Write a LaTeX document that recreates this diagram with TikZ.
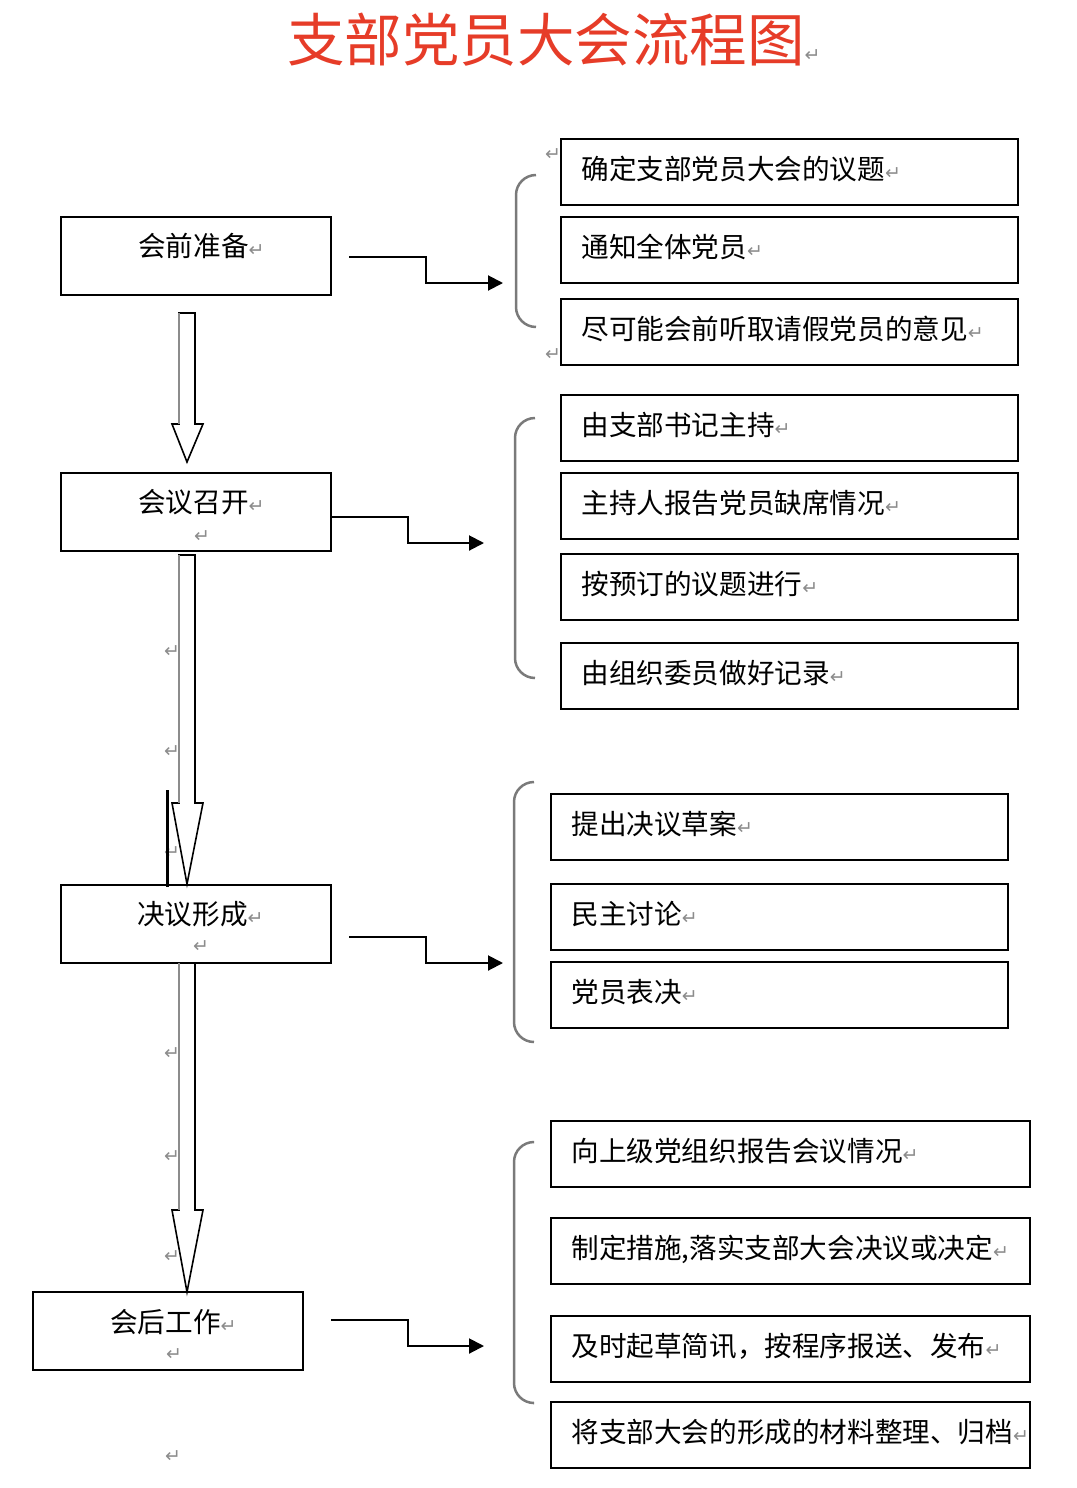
\documentclass[tikz,border=0pt]{standalone}
\usepackage{fontspec}
\usepackage{tikz}
\usepackage{xcolor}
\usetikzlibrary{arrows.meta,positioning,calc}
\setmainfont{Noto Sans CJK SC}
\newfontfamily\retfont{DejaVu Sans}
\definecolor{TitleRed}{HTML}{E63C28}
\definecolor{BraceGray}{HTML}{7A7A7A}
\definecolor{MarkGray}{HTML}{8C8C8C}
\newcommand{\parmark}{{\retfont\fontsize{19}{19}\selectfont\color{MarkGray}↵}}
\tikzset{
    every node/.style={font=\fontsize{27.6}{32}\selectfont},
    stagebox/.style={
        draw, line width=2pt,
        minimum width=270pt, minimum height=78pt, inner sep=0pt
    },
    stagetext/.style={anchor=west, inner sep=0pt},
    itembox/.style={
        draw, line width=2pt, minimum height=66pt,
        inner xsep=20.5pt, inner ysep=0pt,
        text depth=9pt, text height=23pt,
        text width=#1, align=left
    },
    flowarrow/.style={
        -{Triangle[length=15pt,width=15pt]}, line width=2pt
    },
    hollowarrow/.style={
        draw=black, line width=1.6pt, fill=white, line join=miter
    },
    shaftedge/.style={MarkGray, line width=2.4pt},
    brace/.style={BraceGray, line width=2.5pt, rounded corners=20pt},
    parmk/.style={inner sep=0pt},
}

\begin{document}
\begin{tikzpicture}[x=1pt, y=-1pt]
    \useasboundingbox (0,0) rectangle (1076,1488);

    % Title
    \node[anchor=west, inner sep=0pt, text=TitleRed, font=\fontsize{57.5}{60}\selectfont] (title) at (287,40) {支部党员大会流程图\parmark};

    % Stages on the left
    \node[stagebox] (prep) at (196,256) {};
    \node[stagetext] (prepT) at (138,246) {会前准备\parmark};

    \node[stagebox] (meet) at (196,512) {};
    \node[stagetext] (meetT) at (138,502) {会议召开\parmark};
    \node[parmk] (meetM) at (202,537) {\parmark};

    \node[stagebox] (resol) at (196,924) {};
    \node[stagetext] (resolT) at (137,914) {决议形成\parmark};
    \node[parmk] (resolM) at (201,947) {\parmark};

    \node[stagebox] (after) at (168,1331) {};
    \node[stagetext] (afterT) at (110,1322) {会后工作\parmark};
    \node[parmk] (afterM) at (174,1355) {\parmark};
    \node[parmk] (endM) at (173,1457) {\parmark};

    % Hollow arrows between stages
    \path[hollowarrow] (179,313) -- (195,313) -- (195,424) -- (203,424) -- (187,462) -- (172,424) -- (179,424) -- cycle;
    \draw[shaftedge] (179,313) -- (179,424);

    \path[hollowarrow] (179,555) -- (195,555) -- (195,803) -- (203,803) -- (187,884) -- (172,803) -- (179,803) -- cycle;
    \draw[shaftedge] (179,555) -- (179,803);

    \path[hollowarrow] (179,963) -- (195,963) -- (195,1210) -- (203,1210) -- (187,1292) -- (172,1210) -- (179,1210) -- cycle;
    \draw[shaftedge] (179,963) -- (179,1210);

    % Marks along the shafts
    \node[parmk] (pmA) at (172,652) {\parmark};
    \node[parmk] (pmB) at (172,752) {\parmark};
    \node[parmk] (pmC) at (172,853) {\parmark};
    \node[parmk] (pmD) at (172,1054) {\parmark};
    \node[parmk] (pmE) at (172,1157) {\parmark};
    \node[parmk] (pmF) at (172,1257) {\parmark};
    \draw[line width=3pt] (167,790) -- (167,887);

    % Arrow ends at the braces
    \coordinate (tipA) at (503,283);
    \coordinate (tipB) at (484,543);
    \coordinate (tipC) at (503,963);
    \coordinate (tipD) at (484,1346);

    \draw[flowarrow] ([xshift=17pt,yshift=-1pt]prep.east) -- ++(77,0) |- (tipA);
    \draw[flowarrow] ([yshift=-5pt]meet.east) -- ++(76,0) |- (tipB);
    \draw[flowarrow] ([xshift=17pt,yshift=-13pt]resol.east) -- ++(77,0) |- (tipC);
    \draw[flowarrow] ([xshift=27pt,yshift=11pt]after.east) -- ++(77,0) |- (tipD);

    % Braces
    \draw[brace] (536,175) -| (516,251) |- (536,327);
    \draw[brace] (535,418) -| (515,548) |- (535,678);
    \draw[brace] (534,782) -| (514,912) |- (534,1042);
    \draw[brace] (533,1142) -| (514,1272) |- (533,1403);
    \node[parmk] (brM1) at (553,155) {\parmark};
    \node[parmk] (brM2) at (553,355) {\parmark};

    % Group 1: preparation
    \node[itembox=416pt] (prepA) at (789.5,172) {确定支部党员大会的议题\parmark};
    \node[itembox=416pt] (prepB) at (789.5,250) {通知全体党员\parmark};
    \node[itembox=416pt] (prepC) at (789.5,332) {尽可能会前听取请假党员的意见\parmark};

    % Group 2: meeting
    \node[itembox=416pt] (meetA) at (789.5,428) {由支部书记主持\parmark};
    \node[itembox=416pt] (meetB) at (789.5,506) {主持人报告党员缺席情况\parmark};
    \node[itembox=416pt] (meetC) at (789.5,587) {按预订的议题进行\parmark};
    \node[itembox=416pt] (meetD) at (789.5,676) {由组织委员做好记录\parmark};

    % Group 3: resolution
    \node[itembox=416pt] (resolA) at (779.5,827) {提出决议草案\parmark};
    \node[itembox=416pt] (resolB) at (779.5,917) {民主讨论\parmark};
    \node[itembox=416pt] (resolC) at (779.5,995) {党员表决\parmark};

    % Group 4: follow-up
    \node[itembox=438pt] (afterA) at (790.5,1154) {向上级党组织报告会议情况\parmark};
    \node[itembox=438pt] (afterB) at (790.5,1251) {制定措施,落实支部大会决议或决定\parmark};
    \node[itembox=438pt] (afterC) at (790.5,1349) {及时起草简讯，按程序报送、发布\parmark};
    \node[itembox=438pt] (afterD) at (790.5,1435) {将支部大会的形成的材料整理、归档\parmark};
\end{tikzpicture}
\end{document}
